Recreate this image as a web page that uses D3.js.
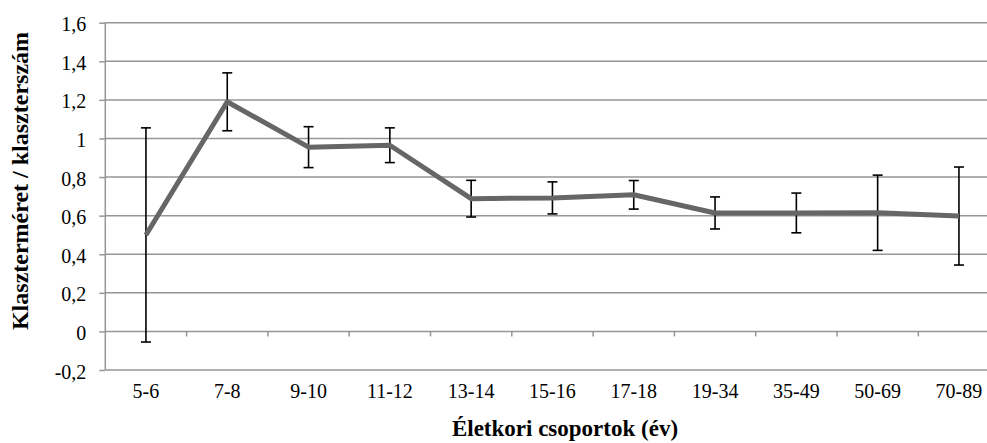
<html>
<head>
<meta charset="utf-8">
<script src="https://d3js.org/d3.v7.min.js"></script>
</head>
<body style="margin:0; background:#fff">
<svg></svg>
<script>
// data
var categories = ["5-6", "7-8", "9-10", "11-12", "13-14", "15-16", "17-18", "19-34", "35-49", "50-69", "70-89"];
var means = [0.50, 1.19, 0.955, 0.965, 0.688, 0.692, 0.708, 0.614, 0.614, 0.615, 0.598];
var errors = [0.555, 0.15, 0.106, 0.09, 0.095, 0.083, 0.074, 0.083, 0.103, 0.195, 0.254];
var yTicks = [-0.2, 0, 0.2, 0.4, 0.6, 0.8, 1, 1.2, 1.4, 1.6];

var width = 987, height = 443;
var plotLeft = 105.3, plotRight = 999.6, plotTop = 22.7, plotBottom = 370;
var serif = "'Liberation Serif'";

var svg = d3.select("svg").attr("width", width).attr("height", height);

var x = d3.scaleBand().domain(categories).range([plotLeft, plotRight]);
var y = d3.scaleLinear().domain([-0.2, 1.6]).range([plotBottom, plotTop]);

var fmt = function(d) { return String(+d.toFixed(1)).replace(".", ","); };

// y axis ticks + labels
var yAxis = svg.append("g")
   .attr("transform", "translate(" + plotLeft + ",0)")
   .call(d3.axisLeft(y).tickValues(yTicks).tickSize(6).tickPadding(13).tickFormat(fmt));
yAxis.select(".domain").remove();
yAxis.selectAll("line").attr("stroke", "#969696").attr("stroke-width", 1.5);
yAxis.selectAll("text").attr("fill", "#000").attr("dy", "0.4em")
   .style("font-family", serif).style("font-size", "20px");

// gridlines
svg.append("g").selectAll("line")
   .data(yTicks)
   .enter().append("line")
   .attr("x1", plotLeft).attr("x2", plotRight)
   .attr("y1", function(d) { return y(d); })
   .attr("y2", function(d) { return y(d); })
   .attr("stroke", "#969696").attr("stroke-width", 1.5);

// vertical axis line
svg.append("line")
   .attr("x1", plotLeft).attr("x2", plotLeft)
   .attr("y1", plotTop).attr("y2", plotBottom)
   .attr("stroke", "#969696").attr("stroke-width", 1.5);

// x axis ticks between categories, on the zero line
svg.append("g").selectAll("line")
   .data(categories.slice(1))
   .enter().append("line")
   .attr("x1", function(d) { return x(d); })
   .attr("x2", function(d) { return x(d); })
   .attr("y1", y(0)).attr("y2", y(0) + 5)
   .attr("stroke", "#969696").attr("stroke-width", 1.5);

// category labels
var xAxis = svg.append("g")
   .attr("transform", "translate(0," + plotBottom + ")")
   .call(d3.axisBottom(x).tickSize(0).tickPadding(14));
xAxis.select(".domain").remove();
xAxis.selectAll("text").attr("fill", "#000")
   .style("font-family", serif).style("font-size", "20px");

// error bars
var cx = function(d, i) { return x(categories[i]) + x.bandwidth() / 2; };
var bars = svg.append("g").attr("stroke", "#000").attr("stroke-width", 1.6);
bars.selectAll(".v").data(means).enter().append("line")
   .attr("x1", cx).attr("x2", cx)
   .attr("y1", function(d, i) { return y(d + errors[i]); })
   .attr("y2", function(d, i) { return y(d - errors[i]); });
bars.selectAll(".t").data(means).enter().append("line")
   .attr("x1", function(d, i) { return cx(d, i) - 5; })
   .attr("x2", function(d, i) { return cx(d, i) + 5; })
   .attr("y1", function(d, i) { return y(d + errors[i]); })
   .attr("y2", function(d, i) { return y(d + errors[i]); });
bars.selectAll(".b").data(means).enter().append("line")
   .attr("x1", function(d, i) { return cx(d, i) - 5; })
   .attr("x2", function(d, i) { return cx(d, i) + 5; })
   .attr("y1", function(d, i) { return y(d - errors[i]); })
   .attr("y2", function(d, i) { return y(d - errors[i]); });

// mean line
var line = d3.line()
   .x(function(d, i) { return cx(d, i); })
   .y(function(d) { return y(d); });
svg.append("path")
   .datum(means)
   .attr("d", line)
   .attr("fill", "none")
   .attr("stroke", "#666666")
   .attr("stroke-width", 5)
   .attr("stroke-linejoin", "round");

// axis titles
svg.append("text")
   .attr("transform", "translate(28,181)rotate(-90)")
   .attr("text-anchor", "middle")
   .style("font-family", serif).style("font-size", "24px").style("font-weight", "bold")
   .text("Klaszterméret / klaszterszám");

svg.append("text")
   .attr("x", 565)
   .attr("y", 436)
   .attr("text-anchor", "middle")
   .style("font-family", serif).style("font-size", "23px").style("font-weight", "bold")
   .text("Életkori csoportok (év)");
</script>
</body>
</html>
